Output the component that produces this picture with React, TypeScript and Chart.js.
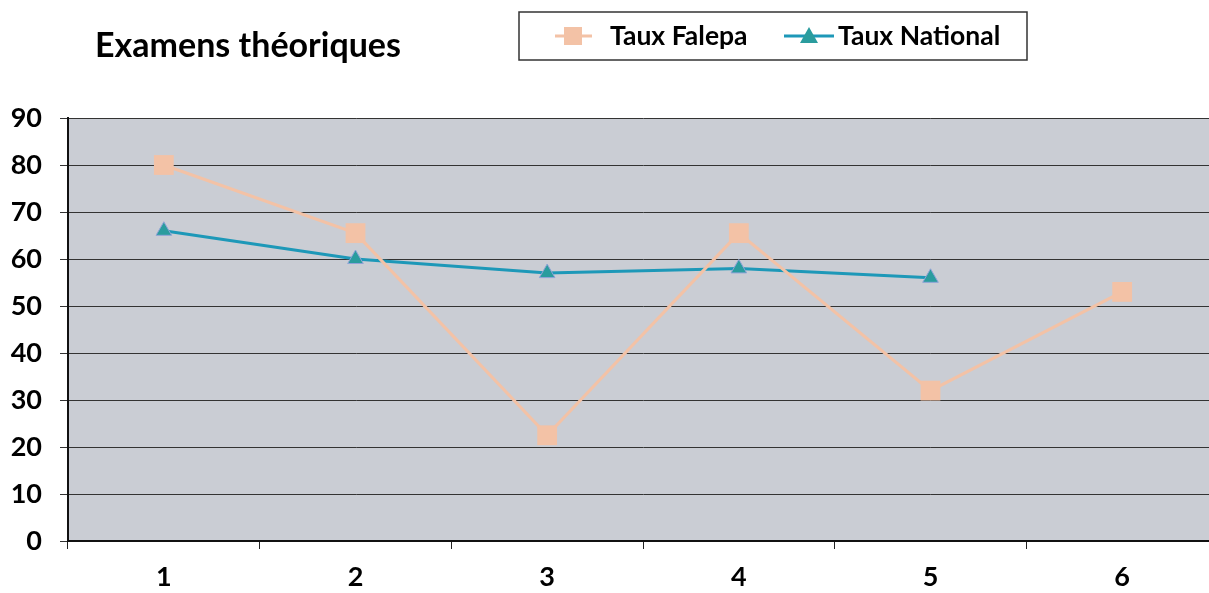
import React, { useEffect, useRef } from "react";
import { Chart, registerables } from "chart.js";

Chart.register(...registerables);

const categories = ["1", "2", "3", "4", "5", "6"];
const tauxFalepa = [80, 65.5, 22.5, 65.5, 32, 53];
const tauxNational = [66, 60, 57, 58, 56, null];
const yTicks = [0, 10, 20, 30, 40, 50, 60, 70, 80, 90];

const FONT = "Lato, 'Open Sans', sans-serif";
const FALEPA_COLOR = "#f3c2a6";
const NATIONAL_LINE = "#1d98b8";
const NATIONAL_FILL = "#2a9c9e";

const bgPlugin = {
  id: "plotBg",
  beforeDraw(chart: any) {
    const { ctx, chartArea } = chart;
    ctx.save();
    ctx.fillStyle = "#cacdd4";
    ctx.fillRect(chartArea.left, chartArea.top, chartArea.right - chartArea.left, chartArea.bottom - chartArea.top);
    ctx.restore();
  },
};

const headerPlugin = {
  id: "header",
  afterDraw(chart: any) {
    const { ctx } = chart;
    ctx.save();
    // title
    ctx.fillStyle = "#000";
    ctx.font = `bold 34px ${FONT}`;
    ctx.textBaseline = "alphabetic";
    ctx.textAlign = "left";
    ctx.fillText("Examens théoriques", 95, 57);
    // legend box
    ctx.fillStyle = "#fff";
    ctx.fillRect(519, 12, 508, 48);
    ctx.strokeStyle = "#333";
    ctx.lineWidth = 1.5;
    ctx.strokeRect(519, 12, 508, 48);
    const ds = chart.data.datasets;
    const cy = 36;
    // Falepa
    ctx.strokeStyle = FALEPA_COLOR;
    ctx.lineWidth = 3;
    ctx.beginPath();
    ctx.moveTo(555, cy);
    ctx.lineTo(592, cy);
    ctx.stroke();
    ctx.fillStyle = FALEPA_COLOR;
    ctx.fillRect(564, cy - 9, 18, 18);
    ctx.fillStyle = "#000";
    ctx.font = `bold 26.5px ${FONT}`;
    ctx.textBaseline = "middle";
    ctx.fillText(ds[0].label, 610, cy);
    // National
    ctx.strokeStyle = NATIONAL_LINE;
    ctx.lineWidth = 3;
    ctx.beginPath();
    ctx.moveTo(784, cy);
    ctx.lineTo(834, cy);
    ctx.stroke();
    ctx.fillStyle = NATIONAL_FILL;
    ctx.beginPath();
    ctx.moveTo(809, cy - 9);
    ctx.lineTo(818, cy + 7);
    ctx.lineTo(800, cy + 7);
    ctx.closePath();
    ctx.fill();
    ctx.fillStyle = "#000";
    ctx.fillText(ds[1].label, 838, cy);
    ctx.restore();
  },
};

export default function App() {
  const ref = useRef<HTMLCanvasElement>(null);
  useEffect(() => {
    if (!ref.current) return;
    const chart = new Chart(ref.current, {
      type: "line",
      data: {
        labels: categories,
        datasets: [
          {
            label: "Taux Falepa",
            data: tauxFalepa,
            borderColor: FALEPA_COLOR,
            backgroundColor: FALEPA_COLOR,
            borderWidth: 3,
            pointStyle: "rect",
            pointRadius: 14,
            pointBorderWidth: 0,
            pointBackgroundColor: FALEPA_COLOR,
            tension: 0,
          },
          {
            label: "Taux National",
            data: tauxNational,
            borderColor: NATIONAL_LINE,
            backgroundColor: NATIONAL_FILL,
            borderWidth: 3,
            pointStyle: "triangle",
            pointRadius: 9,
            pointBorderWidth: 1,
            pointBorderColor: "#8fa3d8",
            pointBackgroundColor: NATIONAL_FILL,
            tension: 0,
          },
        ],
      },
      options: {
        responsive: false,
        animation: false,
        layout: { padding: { top: 118, left: 0, right: 0, bottom: 0 } },
        plugins: {
          legend: { display: false },
          title: { display: false },
          tooltip: { enabled: false },
        },
        scales: {
          x: {
            offset: true,
            grid: {
              offset: true,
              drawOnChartArea: false,
              drawTicks: true,
              tickLength: 8,
              color: "#222",
            },
            border: { color: "#111", width: 2 },
            ticks: {
              color: "#000",
              font: { family: FONT, size: 27, weight: "bold" },
              padding: 12,
              maxRotation: 0,
            },
            afterFit(s: any) {
              s.height = 52;
            },
          },
          y: {
            min: 0,
            max: 90,
            afterBuildTicks(s: any) {
              s.ticks = yTicks.map((v) => ({ value: v }));
            },
            grid: {
              color: "#333",
              lineWidth: 1,
              tickLength: 8,
            },
            border: { color: "#111", width: 2 },
            ticks: {
              color: "#000",
              font: { family: FONT, size: 27, weight: "bold" },
              padding: 18,
            },
            afterFit(s: any) {
              s.width = 68;
            },
          },
        },
      },
      plugins: [bgPlugin, headerPlugin],
    });
    return () => chart.destroy();
  }, []);
  return (
    <div style={{ position: "fixed", left: 0, top: 0, width: 1209, height: 593, overflow: "hidden", background: "#fff" }}>
      <canvas ref={ref} width={1232} height={593} style={{ display: "block" }} />
    </div>
  );
}
